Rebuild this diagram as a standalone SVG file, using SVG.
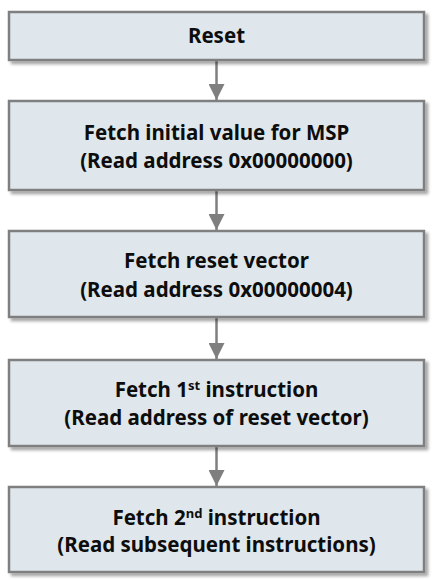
<svg xmlns="http://www.w3.org/2000/svg" width="439" height="582" viewBox="0 0 439 582">
<defs>
<filter id="sh" x="-5%" y="-10%" width="115%" height="130%">
<feDropShadow dx="3" dy="3" stdDeviation="1.5" flood-color="#000" flood-opacity="0.35"/>
</filter>
<marker id="ah" markerWidth="16" markerHeight="16" viewBox="0 0 16 16" refX="16" refY="8" orient="auto" markerUnits="userSpaceOnUse">
<path d="M0,0 L16,8 L0,16 Z" fill="#7f7f7f"/>
</marker>
<style>
.box{fill:#dfe7ec;stroke:#7f7f7f;stroke-width:2.5;filter:url(#sh)}
.t{font-family:"Noto Sans","DejaVu Sans",sans-serif;font-weight:bold;font-size:20.5px;fill:#0d0d0d;text-anchor:middle}
.c{stroke:#7f7f7f;stroke-width:2.5;fill:none;marker-end:url(#ah)}
</style>
</defs>
<g id="connectors">
<line class="c" x1="216.5" y1="60" x2="216.5" y2="100"/>
<line class="c" x1="216.5" y1="190" x2="216.5" y2="230"/>
<line class="c" x1="216.5" y1="317" x2="216.5" y2="359"/>
<line class="c" x1="216.5" y1="446" x2="216.5" y2="486"/>
</g>
<g id="n1">
<rect class="box" x="9" y="12" width="415" height="48"/>
<text class="t" x="216.5" y="43">Reset</text>
</g>
<g id="n2">
<rect class="box" x="9" y="101" width="415" height="89"/>
<text class="t" x="216.5" y="140">Fetch initial value for MSP</text>
<text class="t" x="216.5" y="168">(Read address 0x00000000)</text>
</g>
<g id="n3">
<rect class="box" x="9" y="231" width="415" height="86"/>
<text class="t" x="216.5" y="268">Fetch reset vector</text>
<text class="t" x="216.5" y="297">(Read address 0x00000004)</text>
</g>
<g id="n4">
<rect class="box" x="9" y="360" width="415" height="86"/>
<text class="t" x="216.5" y="397">Fetch 1<tspan font-size="13" dy="-7">st</tspan><tspan dy="7"> instruction</tspan></text>
<text class="t" x="216.5" y="425">(Read address of reset vector)</text>
</g>
<g id="n5">
<rect class="box" x="9" y="487" width="415" height="85"/>
<text class="t" x="216.5" y="525">Fetch 2<tspan font-size="13" dy="-7">nd</tspan><tspan dy="7"> instruction</tspan></text>
<text class="t" x="216.5" y="552">(Read subsequent instructions)</text>
</g>
</svg>
